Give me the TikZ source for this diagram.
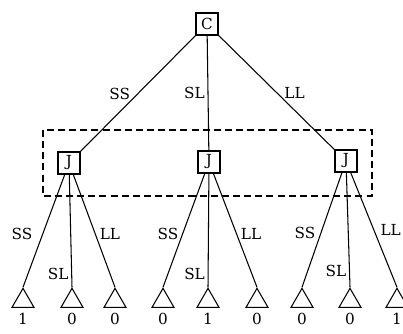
\documentclass[tikz,border=0pt]{standalone}
\usepackage{fontspec}
\setmainfont{DejaVu Serif}
\usetikzlibrary{shapes.geometric}

\tikzset{
  box/.style={draw, line width=0.9pt, minimum size=0.66cm, inner sep=0pt},
  leaf/.style={draw, line width=0.9pt, regular polygon, regular polygon sides=3,
    minimum size=0.76cm, inner sep=0pt},
  branch/.style={line width=0.9pt},
  payoff/.style={label distance=1pt}
}

\begin{document}
\begin{tikzpicture}[x=0.03cm, y=-0.03cm, font=\fontsize{13}{15}\selectfont]
      \useasboundingbox (0,0) rectangle (403,333);

      % chance move and the three J moves
      \node[box] (c) at (207,24) {C};
      \node[box] (j1) at (69,163) {J};
      \node[box] (j2) at (209,162) {J};
      \node[box] (j3) at (346,161) {J};

      \draw[branch] (c) -- node[left=3pt] {SS} (j1);
      \draw[branch] (c) -- node[left=-1pt] {SL} (j2);
      \draw[branch] (c) -- node[right=3pt] {LL} (j3);

      % J cannot tell the three nodes apart
      \draw[line width=0.9pt, dash pattern=on 6pt off 3.5pt] (43,130) rectangle (372,196);

      % end points with payoffs
      \node[leaf, label={[payoff]below:1}] (t1) at (23,301) {};
      \node[leaf, label={[payoff]below:0}] (t2) at (72,301) {};
      \node[leaf, label={[payoff]below:0}] (t3) at (115,301) {};
      \node[leaf, label={[payoff]below:0}] (t4) at (163,301) {};
      \node[leaf, label={[payoff]below:1}] (t5) at (208,301) {};
      \node[leaf, label={[payoff]below:0}] (t6) at (257,301) {};
      \node[leaf, label={[payoff]below:0}] (t7) at (302,301) {};
      \node[leaf, label={[payoff]below:0}] (t8) at (350,301) {};
      \node[leaf, label={[payoff]below:1}] (t9) at (397,301) {};

      \draw[branch] (j1) -- node[pos=0.53, left=5pt] {SS} (t1.corner 1);
      \draw[branch] (j1) -- node[pos=0.88, left=-1pt] {SL} (t2.corner 1);
      \draw[branch] (j1) -- node[pos=0.53, right] {LL} (t3.corner 1);

      \draw[branch] (j2) -- node[pos=0.53, left=0pt] {SS} (t4.corner 1);
      \draw[branch] (j2) -- node[pos=0.88, left=-1pt] {SL} (t5.corner 1);
      \draw[branch] (j2) -- node[pos=0.53, right] {LL} (t6.corner 1);

      \draw[branch] (j3) -- node[pos=0.53, left=1pt] {SS} (t7.corner 1);
      \draw[branch] (j3) -- node[pos=0.86, left=-1pt] {SL} (t8.corner 1);
      \draw[branch] (j3) -- node[pos=0.50, right=2pt] {LL} (t9.corner 1);
    \end{tikzpicture}
\end{document}
